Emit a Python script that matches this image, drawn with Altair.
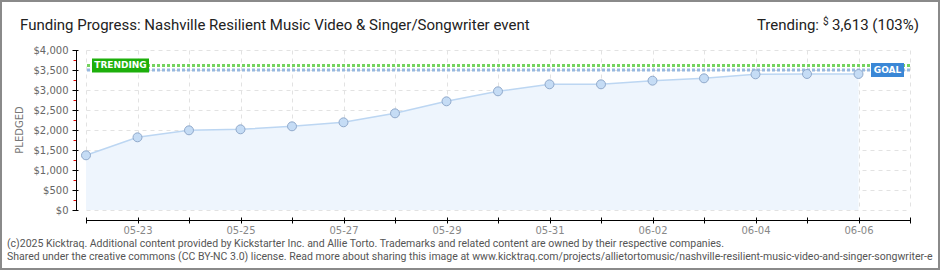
import altair as alt
import pandas as pd

# ---- data ----
dates = ["2025-05-22", "2025-05-23", "2025-05-24", "2025-05-25", "2025-05-26",
         "2025-05-27", "2025-05-28", "2025-05-29", "2025-05-30", "2025-05-31",
         "2025-06-01", "2025-06-02", "2025-06-03", "2025-06-04", "2025-06-05",
         "2025-06-06"]
pledged = [1367, 1817, 1992, 2017, 2092, 2192, 2417, 2717, 2967, 3142,
           3142, 3233, 3292, 3392, 3400, 3400]
tick_days = dates + ["2025-06-07"]
tick_labels = ["05-23", "05-25", "05-27", "05-29", "05-31", "06-02", "06-04", "06-06"]
y_major = [0, 500, 1000, 1500, 2000, 2500, 3000, 3500, 4000]
y_minor = [250, 750, 1250, 1750, 2250, 2750, 3250, 3750]
goal = 3500
trending = 3613

title_text = "Funding Progress: Nashville Resilient Music Video & Singer/Songwriter event"
footer1 = ("(c)2025 Kicktraq. Additional content provided by Kickstarter Inc. and Allie Torto. "
           "Trademarks and related content are owned by their respective companies.")
footer2 = ("Shared under the creative commons (CC BY-NC 3.0) license. Read more about sharing this image at "
           "www.kicktraq.com/projects/allietortomusic/nashville-resilient-music-video-and-singer-songwriter-e")

df = pd.DataFrame({"date": dates, "pledged": pledged})


def dt(s):
    y, m, d = s.split("-")
    return alt.DateTime(year=int(y), month=int(m), date=int(d), utc=True)


tick_vals = [dt(s) for s in tick_days]
xscale = alt.Scale(type="utc", domain=[dt(tick_days[0]), dt(tick_days[-1])])
yscale = alt.Scale(domain=[0, 4000], nice=False, zero=True)

lab_list = "[" + ",".join("'%s'" % t for t in tick_labels) + "]"
label_expr = ("indexof(%s, utcFormat(datum.value, '%%m-%%d')) >= 0 ? "
              "utcFormat(datum.value, '%%m-%%d') : ''") % lab_list

LABEL_FONT = "DejaVu Sans"
TEXT_FONT = "Roboto"

grid_x = alt.Axis(values=tick_vals, orient="bottom", grid=True, gridDash=[4, 4],
                  gridColor="#e2e2e2", domain=False, ticks=False, labels=False, title=None)
grid_y = alt.Axis(values=y_major, orient="left", grid=True, gridDash=[4, 4],
                  gridColor="#e2e2e2", domain=False, ticks=False, labels=False, title=None)

tick_x = alt.Axis(values=tick_vals, orient="bottom", grid=False, domain=False, ticks=True,
                  tickSize=6, tickColor="#000", tickWidth=1, labels=False, offset=7, title=None)
tick_y = alt.Axis(values=y_major, orient="left", grid=False, domain=False, ticks=True,
                  tickSize=6, tickColor="#000", tickWidth=1, labels=False, offset=8, title=None)
minor_y = alt.Axis(values=y_minor, orient="left", grid=False, domain=False, ticks=True,
                   tickSize=3, tickColor="#e00000", tickWidth=1, labels=False, offset=10, title=None)

main_x = alt.Axis(values=tick_vals, orient="bottom", grid=False, domain=True, domainColor="#000",
                  domainWidth=1, ticks=False, tickSize=0, labels=True, labelExpr=label_expr,
                  labelFont=LABEL_FONT, labelFontSize=10, labelColor="#888", labelPadding=5,
                  offset=10, title=None)
main_y = alt.Axis(values=y_major, orient="left", grid=False, domain=True, domainColor="#000",
                  domainWidth=1, ticks=False, tickSize=0, labels=True, format="$,.0f",
                  labelFont=LABEL_FONT, labelFontSize=10, labelColor="#666", labelPadding=8,
                  offset=10, title=None)

area = alt.Chart(df).mark_area(color="#eef5fd", opacity=1).encode(
    x=alt.X("date:T", scale=xscale, axis=grid_x),
    y=alt.Y("pledged:Q", scale=yscale, axis=grid_y),
)

line = alt.Chart(df).mark_line(color="#bcd6f2", strokeWidth=1.5).encode(
    x=alt.X("date:T", scale=xscale, axis=tick_x),
    y=alt.Y("pledged:Q", scale=yscale, axis=tick_y),
)

trend_df = pd.DataFrame({"value": [trending], "label": ["TRENDING"]})
goal_df = pd.DataFrame({"value": [goal], "label": ["GOAL"]})

trend_rule = alt.Chart(trend_df).mark_rule(color="#74d35e", strokeWidth=3, strokeDash=[3, 2]).encode(
    y=alt.Y("value:Q", scale=yscale, axis=minor_y)
)
goal_rule = alt.Chart(goal_df).mark_rule(color="#96b8df", strokeWidth=3, strokeDash=[3, 2]).encode(
    y=alt.Y("value:Q", scale=yscale, axis=None)
)

trend_box = alt.Chart(trend_df).mark_rule(color="#1daf0b", strokeWidth=14).encode(
    y=alt.Y("value:Q", scale=yscale, axis=None), x=alt.value(6), x2=alt.value(63)
)
trend_txt = alt.Chart(trend_df).mark_text(color="white", font=LABEL_FONT, fontSize=9,
                                          fontWeight="bold", align="center", baseline="middle").encode(
    y=alt.Y("value:Q", scale=yscale, axis=None), x=alt.value(34.5), text="label:N"
)
goal_box = alt.Chart(goal_df).mark_rule(color="#3a87d6", strokeWidth=14).encode(
    y=alt.Y("value:Q", scale=yscale, axis=None), x=alt.value(785), x2=alt.value(818)
)
goal_txt = alt.Chart(goal_df).mark_text(color="white", font=LABEL_FONT, fontSize=9,
                                        fontWeight="bold", align="center", baseline="middle").encode(
    y=alt.Y("value:Q", scale=yscale, axis=None), x=alt.value(801.5), text="label:N"
)

points = alt.Chart(df).mark_circle(size=80, color="#c5dcf5", opacity=1, stroke="#90a9cb",
                                   strokeWidth=1).encode(
    x=alt.X("date:T", scale=xscale, axis=main_x),
    y=alt.Y("pledged:Q", scale=yscale, axis=main_y),
)


def text_layer(txt, x, y, size, color, font=TEXT_FONT, align="left",
               angle=0, weight="normal"):
    return alt.Chart(pd.DataFrame({"t": [txt]})).mark_text(
        font=font, fontSize=size, color=color, align=align, baseline="alphabetic",
        angle=angle, fontWeight=weight
    ).encode(text="t:N", x=alt.value(x), y=alt.value(y))


title = text_layer(title_text, -66, -20, 15, "#222")
trend_a = text_layer("Trending:", 733, -20, 15, "#222", align="right")
trend_b = text_layer("$", 737, -25, 10, "#222")
trend_c = text_layer("3,613 (103%)", 833, -20, 15, "#222", align="right")
pledged_title = alt.Chart(pd.DataFrame({"t": ["PLEDGED"]})).mark_text(
    font=LABEL_FONT, fontSize=10, color="#777", angle=270,
    align="center", baseline="middle"
).encode(text="t:N", x=alt.value(-66), y=alt.value(80))
foot1 = text_layer(footer1, -79, 197, 10.5, "#555")
foot2 = text_layer(footer2, -79, 210, 10.5, "#555")

border = alt.Chart(pd.DataFrame({"t": [0]})).mark_rect(
    fillOpacity=0, stroke="#8a8a8a", strokeWidth=2
).encode(x=alt.value(-85), x2=alt.value(853), y=alt.value(-49), y2=alt.value(219))

chart = alt.layer(
    area, line, trend_rule, goal_rule, trend_box, trend_txt, goal_box, goal_txt, points,
    title, trend_a, trend_b, trend_c, pledged_title, foot1, foot2, border
).resolve_axis(x="independent", y="independent").properties(
    width=824, height=160,
    padding={"left": 86, "top": 50, "right": 30, "bottom": 60},
    autosize=alt.AutoSizeParams(type="none"),
    background="white",
).configure_view(stroke=None)

chart.save("out.html", embed_options={"renderer": "svg", "actions": False})
